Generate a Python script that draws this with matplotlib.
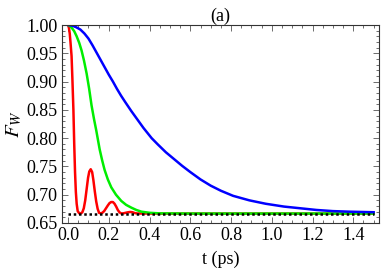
import matplotlib
matplotlib.use('Agg')
import matplotlib.pyplot as plt
from matplotlib.ticker import MultipleLocator

plt.rcParams['font.family'] = ['Liberation Serif', 'DejaVu Serif']
plt.rcParams['mathtext.fontset'] = 'stix'

# values
t_red = [0.0, 0.004, 0.008, 0.012, 0.017, 0.021, 0.026, 0.030, 0.034, 0.038, 0.042,
         0.047, 0.055, 0.063, 0.070, 0.077, 0.084, 0.091, 0.098, 0.104, 0.111,
         0.118, 0.124, 0.131, 0.138, 0.145, 0.152, 0.160, 0.168, 0.177, 0.186,
         0.195, 0.203, 0.211, 0.220, 0.228, 0.236, 0.244, 0.252, 0.260, 0.270,
         0.282, 0.295, 0.305, 0.316, 0.328, 0.34, 0.40, 0.60, 1.0, 1.5]
f_red = [1.0, 0.995, 0.985, 0.968, 0.945, 0.905, 0.85, 0.79, 0.74, 0.705, 0.684,
         0.671, 0.667, 0.667, 0.669, 0.676, 0.690, 0.710, 0.730, 0.741, 0.745,
         0.740, 0.726, 0.706, 0.688, 0.675, 0.668, 0.667, 0.668, 0.671, 0.676,
         0.681, 0.685, 0.687, 0.687, 0.684, 0.679, 0.673, 0.669, 0.667, 0.667,
         0.668, 0.669, 0.6695, 0.669, 0.6675, 0.6668, 0.6667, 0.6667, 0.6667, 0.6667]

t_green = [0.0, 0.01, 0.02, 0.03, 0.042, 0.055, 0.066, 0.078, 0.091, 0.103, 0.115,
           0.127, 0.138, 0.147, 0.155, 0.167, 0.179, 0.195, 0.212, 0.235, 0.261,
           0.285, 0.311, 0.335, 0.360, 0.38, 0.40, 0.45, 0.6, 1.0, 1.5]
f_green = [1.0, 0.998, 0.994, 0.989, 0.980, 0.968, 0.955, 0.937, 0.914, 0.888, 0.858,
           0.834, 0.814, 0.796, 0.780, 0.761, 0.744, 0.727, 0.713, 0.700, 0.689,
           0.682, 0.677, 0.673, 0.670, 0.669, 0.668, 0.6670, 0.6667, 0.6667, 0.6667]

t_blue = [0.0, 0.02, 0.04, 0.06, 0.08, 0.10, 0.12, 0.14, 0.16, 0.18, 0.20, 0.22,
          0.24, 0.26, 0.28, 0.31, 0.34, 0.37, 0.41, 0.44, 0.48, 0.52, 0.56, 0.60,
          0.65, 0.70, 0.75, 0.81, 0.89, 0.97, 1.06, 1.14, 1.22, 1.30, 1.38, 1.50]
f_blue = [1.0, 0.999, 0.996, 0.992, 0.985, 0.976, 0.964, 0.951, 0.938, 0.925, 0.912,
          0.900, 0.887, 0.875, 0.864, 0.848, 0.833, 0.818, 0.800, 0.789, 0.775,
          0.763, 0.751, 0.740, 0.727, 0.716, 0.707, 0.698, 0.690, 0.684, 0.679,
          0.676, 0.673, 0.671, 0.670, 0.669]

t_limit = [0.0, 1.5]
f_limit = [2 / 3, 2 / 3]

fig = plt.figure(figsize=(3.82, 2.73), dpi=100)
ax = fig.add_axes([0.1623, 0.1832, 0.8297, 0.7252])

ax.plot(t_red, f_red, color='#ff0000', lw=1.8, solid_joinstyle='round')
ax.plot(t_green, f_green, color='#00ee00', lw=1.8, solid_joinstyle='round')
ax.plot(t_blue, f_blue, color='#0000ff', lw=1.8, solid_joinstyle='round')
ax.plot(t_limit, f_limit, color='black', lw=1.8, linestyle=(0, (1, 1.1)))

ax.set_xlim(-0.03, 1.526)
ax.set_ylim(0.65, 1.0)

ax.xaxis.set_major_locator(MultipleLocator(0.2))
ax.xaxis.set_minor_locator(MultipleLocator(0.05))
ax.yaxis.set_major_locator(MultipleLocator(0.05))
ax.yaxis.set_minor_locator(MultipleLocator(0.01))
ax.xaxis.set_major_formatter(plt.FuncFormatter(lambda v, p: '%.1f' % v))
ax.yaxis.set_major_formatter(plt.FuncFormatter(lambda v, p: '%.2f' % v))

ax.tick_params(which='both', direction='in', top=True, right=True,
               labelsize=13, width=0.6, color='#555555', pad=3)
ax.tick_params(which='major', length=4.5)
ax.tick_params(which='minor', length=2.3)
for s in ax.spines.values():
    s.set_linewidth(0.8)
    s.set_color('#333333')

ax.set_title('(a)', fontsize=13, pad=3)
ax.set_xlabel('t (ps)', fontsize=13, labelpad=5)
ax.set_ylabel('$F_W$', fontsize=15, labelpad=2)

fig.savefig('out.png', dpi=100)
